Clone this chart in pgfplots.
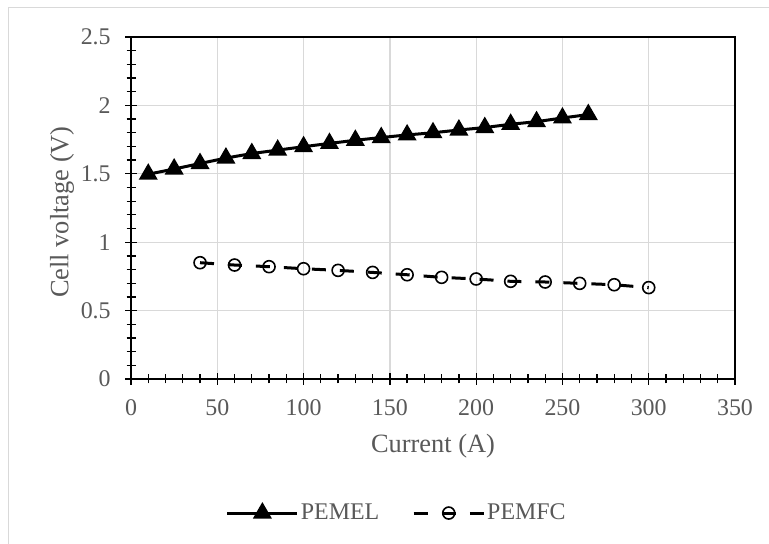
\documentclass[border=0pt]{standalone}
\usepackage{fontspec}
\setmainfont{Liberation Serif}
\usepackage{pgfplots}
\pgfplotsset{compat=1.18}
\definecolor{txtgrey}{HTML}{595959}
\definecolor{gridgrey}{HTML}{D9D9D9}
\begin{document}
\fontsize{24.5}{28}\selectfont
\begin{tikzpicture}[x=1bp,y=1bp]
\path[use as bounding box, fill=white] (0,0) rectangle (769,544);
\draw[gridgrey, line width=1bp] (8,0) -- (8,536) -- (769,536);
\begin{axis}[
  at={(131bp,165bp)}, anchor=south west,
  scale only axis, width=604bp, height=342bp,
  xmin=0, xmax=350, ymin=0, ymax=2.5,
  xtick={0,50,...,350}, ytick={0,0.5,1,1.5,2,2.5},
  minor x tick num=4, minor y tick num=4,
  xtick pos=bottom, ytick pos=left,
  grid=major, major grid style={gridgrey, line width=1.3bp},
  tick align=center, major tick length=12bp, minor tick length=9bp,
  every tick/.style={black, line width=1.3bp},
  axis line style={black, line width=1.5bp},
  /pgf/number format/assume math mode=true,
  ticklabel style={text=txtgrey, font=\fontsize{24}{28}\selectfont},
  xticklabel style={yshift=-6bp},
  yticklabel style={xshift=-6bp},
  label style={text=txtgrey, font=\fontsize{26.5}{30}\selectfont},
  xlabel={Current (A)}, ylabel={Cell voltage (V)},
  xlabel style={at={(axis description cs:0.5,-0.196)}, anchor=center},
  ylabel style={at={(axis description cs:-0.114,0.488)}, anchor=center},
  legend style={at={(axis description cs:0.44,-0.392)}, anchor=center, draw=none, fill=none,
    legend columns=2, text=txtgrey, font=\fontsize{24}{28}\selectfont,
    /tikz/every even column/.append style={column sep=31bp}},
  legend image code/.code={\draw[mark repeat=2,mark phase=2,#1] plot coordinates {(0bp,0bp) (35bp,0bp) (70bp,0bp)};},
]
\addplot[black, line width=3bp, mark=triangle*, mark size=8bp, mark options={solid}] coordinates {
(10,1.497) (25,1.535) (40,1.575) (55,1.615) (70,1.648) (85,1.673) (100,1.698) (115,1.722)
(130,1.745) (145,1.765) (160,1.784) (175,1.800) (190,1.820) (205,1.838) (220,1.862) (235,1.881)
(250,1.908) (265,1.933)};
\addlegendentry{PEMEL}
\addplot[black, line width=3bp, dash pattern=on 14bp off 14bp, mark=o, mark size=6bp, mark options={solid, line width=1.6bp}] coordinates {
(40,0.850) (60,0.833) (80,0.821) (100,0.806) (120,0.794) (140,0.779) (160,0.762) (180,0.743)
(200,0.731) (220,0.714) (240,0.709) (260,0.699) (280,0.689) (300,0.668)};
\addlegendentry{PEMFC}
\end{axis}
\end{tikzpicture}
\end{document}
